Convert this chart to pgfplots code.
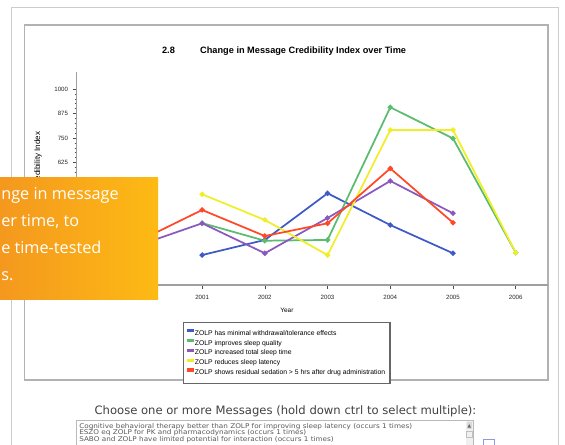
\documentclass[border=0pt]{standalone}
\usepackage{fontspec}
\setmainfont{Liberation Sans}
\newfontfamily\dejavu{DejaVu Sans}
\newfontfamily\dejavuwide[FakeStretch=1.11]{DejaVu Sans}
\newfontfamily\opensans{Open Sans}
\usepackage{pgfplots}
\pgfplotsset{compat=1.18}
\definecolor{cblue}{RGB}{62,90,200}
\definecolor{cgreen}{RGB}{90,188,110}
\definecolor{cpurple}{RGB}{138,88,190}
\definecolor{cyellow}{RGB}{240,238,40}
\definecolor{cred}{RGB}{255,72,40}
\definecolor{orA}{RGB}{244,152,30}
\definecolor{orB}{RGB}{253,186,20}
\begin{document}
\begin{tikzpicture}
\useasboundingbox (0,0) rectangle (423.75pt,-333pt);
\begin{scope}[x=0.75pt,y=-0.75pt]
\draw[gray!40, line width=0.75pt] (11,7) rectangle (558,470);
\draw[gray!60, line width=1.2pt] (24.5,25) rectangle (548,380);
\end{scope}
\begin{axis}[
  at={(57.525pt,-213.75pt)}, anchor=south west,
  scale only axis, width=353.5pt, height=159.75pt,
  xmin=1999, xmax=2006.515, ymin=0, ymax=1087,
  axis x line*=bottom, axis y line*=left,
  axis line style={gray!75, line width=0.9pt},
  xtick={1999,...,2006}, ytick={0,125,...,1000}, minor y tick num=4,
  yticklabels={{},{},{},{},{},625,750,875,1000},
  tick align=outside, major tick length=3pt, minor tick length=1.5pt,
  tick style={gray!60!black, line width=0.45pt},
  /pgf/number format/assume math mode=true,
  /pgf/number format/1000 sep={},
  ticklabel style={font=\fontsize{4.6}{5}\selectfont, text=black!85},
  xticklabel style={yshift=-1pt},
  xlabel={Year}, ylabel={Credibility Index},
  xlabel style={font=\fontsize{4.8}{5}\selectfont, at={(axis description cs:0.446,0)}, anchor=north, yshift=-14pt},
  ylabel style={font=\fontsize{6}{6}\selectfont, at={(axis description cs:-0.082,0.585)}, anchor=center},
  title={\textbf{2.8}\hspace{19pt}\textbf{Change in Message Credibility Index over Time}},
  title style={font=\fontsize{6.9}{7}\selectfont, at={(axis description cs:0.44,1.1)}, anchor=center, yshift=-6pt},
  legend style={at={(axis description cs:0.225,-0.174)}, anchor=north west,
    draw=gray!80!black, line width=0.8pt, font=\fontsize{5.1}{5.5}\selectfont,
    inner xsep=3pt, inner ysep=4.6pt, row sep=1.1pt,
    nodes={inner sep=0.6pt, text height=3.4pt, text depth=1pt}},
  legend cell align=left,
  legend image code/.code={\fill[#1] (0pt,1.5pt) rectangle (3.8pt,2.9pt);},
  every axis plot/.append style={line width=1.3pt, mark=*, mark size=1.25pt},
]
\addplot[cblue, mark options={fill=cblue}] coordinates {(2001,153) (2002,230) (2003,468) (2004,306) (2005,162)};
\addlegendentry{ZOLP has minimal withdrawal/tolerance effects}
\addplot[cgreen, mark options={fill=cgreen}] coordinates {(2001,316) (2002,226) (2003,230) (2004,907) (2005,748) (2006,165)};
\addlegendentry{ZOLP improves sleep quality}
\addplot[cpurple, mark options={fill=cpurple}] coordinates {(2000,204) (2001,315) (2002,162) (2003,342) (2004,531) (2005,366)};
\addlegendentry{ZOLP increased total sleep time}
\addplot[cyellow, mark options={fill=cyellow}] coordinates {(2001,463) (2002,332) (2003,153) (2004,791) (2005,791) (2006,165)};
\addlegendentry{ZOLP reduces sleep latency}
\addplot[cred, mark options={fill=cred}] coordinates {(2000,226) (2001,383) (2002,250) (2003,315) (2004,595) (2005,318)};
\addlegendentry{ZOLP shows residual sedation > 5 hrs after drug administration}
\end{axis}
\begin{scope}[x=0.75pt,y=-0.75pt]
\shade[left color=orA, right color=orB] (0,177) rectangle (158,299);
\begin{scope}[every node/.style={anchor=base west, text=white, inner sep=0pt, font=\opensans\fontsize{12.2}{12.5}\selectfont}]
\node at (1,199) {nge in message};
\node at (1,226) {er time, to};
\node at (1,253) {e time-tested};
\node at (1,280) {s.};
\end{scope}
\node[font=\dejavu\fontsize{8.7}{9}\selectfont, text=black!75, inner sep=0pt] at (285.5,411.5) {Choose one or more Messages (hold down ctrl to select multiple):};
\draw[gray!55, line width=0.6pt] (76.7,420) rectangle (473,470);
\begin{scope}[every node/.style={anchor=base west, text=black!65, inner sep=0pt, font=\dejavuwide\fontsize{4.9}{5}\selectfont}]
\node at (79,428.3) {Cognitive behavioral therapy better than ZOLP for improving sleep latency (occurs 1 times)};
\node at (79,434.9) {ESZO eq ZOLP for PK and pharmacodynamics (occurs 1 times)};
\node at (79,441.5) {SABO and ZOLP have limited potential for interaction (occurs 1 times)};
\end{scope}
\fill[gray!12] (466,421) rectangle (472.5,470);
\fill[gray!30] (466.5,422) rectangle (472,429);
\fill[black!60] (467.6,427.5) -- (469.25,424.2) -- (470.9,427.5) -- cycle;
\draw[gray!50, line width=0.5pt] (466.5,431) rectangle (472,437);
\draw[cblue!60, line width=0.6pt] (483,439) rectangle (494,450);
\end{scope}
\end{tikzpicture}
\end{document}
